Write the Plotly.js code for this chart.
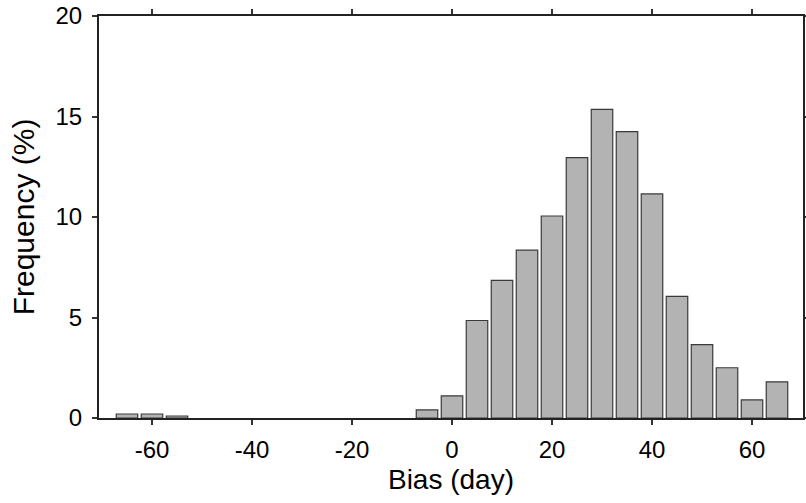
<!DOCTYPE html>
<html>
<head>
<meta charset="utf-8">
<script src="https://cdn.plot.ly/plotly-3.0.1.min.js"></script>
<style>html,body{margin:0;padding:0;background:#fff;}#chart{width:806px;height:503px;}</style>
</head>
<body>
<div id="chart"></div>
<script>
// Only bins with observed values (empty bins between -50 and -10 are not drawn in the reference)
const binCenters = [-65, -60, -55, -5, 0, 5, 10, 15, 20, 25, 30, 35, 40, 45, 50, 55, 60, 65];
const frequency  = [0.2, 0.2, 0.1, 0.4, 1.1, 4.85, 6.85, 8.35, 10.05, 12.95, 15.35, 14.25, 11.15, 6.05, 3.65, 2.5, 0.9, 1.8];
const xTicks = [-60, -40, -20, 0, 20, 40, 60];
const yTicks = [0, 5, 10, 15, 20];

const trace = {
  type: 'bar',
  x: binCenters,
  y: frequency,
  width: 4.3,
  marker: {color: '#b3b3b3', line: {color: '#3a3a3a', width: 1.2}},
  hoverinfo: 'x+y'
};

const layout = {
  width: 806, height: 503,
  margin: {l: 99, r: 3, t: 16, b: 85},
  paper_bgcolor: '#fff', plot_bgcolor: '#fff',
  font: {family: 'Liberation Sans, Arial, sans-serif', color: '#000', size: 24},
  showlegend: false,
  xaxis: {
    range: [-70.6, 70.2],
    tickvals: xTicks,
    ticktext: xTicks.map(String),
    ticks: 'outside', ticklen: 5, tickwidth: 2, tickcolor: '#333',
    ticklabelstandoff: 4,
    showline: true, linecolor: '#222', linewidth: 2, mirror: 'ticks',
    showgrid: false, zeroline: false,
    tickfont: {size: 24},
    title: {text: 'Bias (day)', font: {size: 28}, standoff: 8}
  },
  yaxis: {
    range: [0, 20],
    tickvals: yTicks,
    ticktext: yTicks.map(String),
    ticks: 'outside', ticklen: 5, tickwidth: 2, tickcolor: '#333',
    ticklabelstandoff: 5,
    showline: true, linecolor: '#222', linewidth: 2, mirror: 'ticks',
    showgrid: false, zeroline: false,
    tickfont: {size: 24},
    title: {text: 'Frequency (%)', font: {size: 30}, standoff: 12}
  }
};

Plotly.newPlot('chart', [trace], layout, {staticPlot: true, displayModeBar: false});
</script>
</body>
</html>
